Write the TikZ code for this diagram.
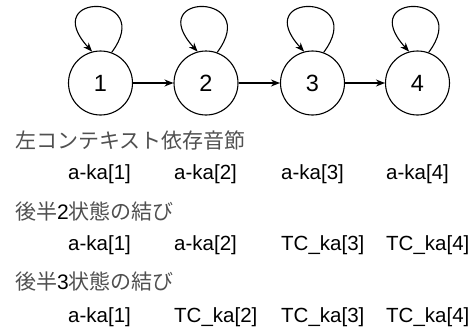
\documentclass[tikz,border=0pt]{standalone}
\usepackage{fontspec}
\setmainfont{Liberation Sans}
\newfontfamily\jpfont{Noto Sans CJK JP}
\usetikzlibrary{arrows.meta}
\definecolor{jpgray}{HTML}{505050}
\tikzset{
  state/.style={circle, draw, line width=1.1pt, minimum size=64pt, inner sep=0pt,
    font=\fontsize{23.5}{23.5}\selectfont},
  edge/.style={line width=1.1pt, -{Stealth[length=9pt,width=7pt]}},
  rowtext/.style={anchor=west, inner sep=0pt, font=\fontsize{20.5}{20.5}\selectfont},
  jplabel/.style={anchor=west, inner sep=0pt, font=\fontsize{21}{21}\selectfont, text=jpgray}
}
\begin{document}
\begin{tikzpicture}[x=1pt,y=-1pt]
\useasboundingbox (0,0) rectangle (475,335);
\node[state] (n1) at (100.5,83) {1};
\node[state] (n2) at (206,83) {2};
\node[state] (n3) at (312.5,83) {3};
\node[state] (n4) at (417.5,83) {4};
\foreach \n in {n1,n2,n3,n4}{
  \draw[edge] (\n.70) .. controls +(45,-60) and +(-55,-60) .. (\n.105);
}
\draw[edge] (n1) -- (n2);
\draw[edge] (n2) -- (n3);
\draw[edge] (n3) -- (n4);

\node[jplabel] (l1) at (15,140) {\jpfont 左コンテキスト依存音節};
\node[rowtext] (r11) at (68,174) {a-ka[1]};
\node[rowtext] (r12) at (174,174) {a-ka[2]};
\node[rowtext] (r13) at (281,174) {a-ka[3]};
\node[rowtext] (r14) at (386,174) {a-ka[4]};

\node[jplabel] (l2) at (15,211) {{\jpfont 後半}{\color{black}2}{\jpfont 状態の結び}};
\node[rowtext] (r21) at (68,245) {a-ka[1]};
\node[rowtext] (r22) at (174,245) {a-ka[2]};
\node[rowtext] (r23) at (281,245) {TC\_ka[3]};
\node[rowtext] (r24) at (386,245) {TC\_ka[4]};

\node[jplabel] (l3) at (15,281) {{\jpfont 後半}{\color{black}3}{\jpfont 状態の結び}};
\node[rowtext] (r31) at (68,317) {a-ka[1]};
\node[rowtext] (r32) at (174,317) {TC\_ka[2]};
\node[rowtext] (r33) at (281,317) {TC\_ka[3]};
\node[rowtext] (r34) at (386,317) {TC\_ka[4]};
\end{tikzpicture}
\end{document}
